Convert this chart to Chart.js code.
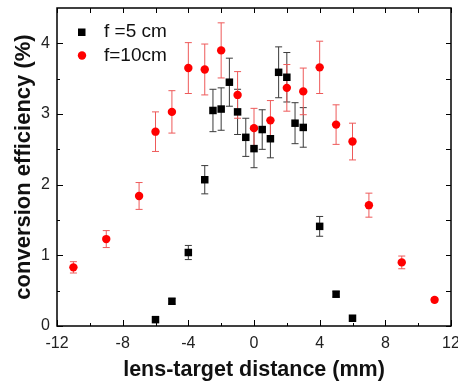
<!DOCTYPE html>
<html>
<head>
<meta charset="utf-8">
<script src="https://cdn.jsdelivr.net/npm/chart.js@4.4.1/dist/chart.umd.min.js"></script>
<style>
  html, body { margin: 0; padding: 0; background: #fff; }
  #wrap { width: 458px; height: 388px; }
</style>
</head>
<body>
<div id="wrap"><canvas id="chart"></canvas></div>
<script>
// ---- data ----
// f = 5 cm (black squares)
const xShort = [-6, -5, -4, -3, -2.5, -2, -1.5, -1, -0.5, 0, 0.5, 1, 1.5, 2, 2.5, 3, 4, 5, 6];
const yShort = [0.09, 0.35, 1.04, 2.07, 3.05, 3.07, 3.45, 3.03, 2.67, 2.51, 2.78, 2.65, 3.59, 3.52, 2.87, 2.81, 1.41, 0.45, 0.11];
const errShort = [0.02, 0.04, 0.1, 0.2, 0.3, 0.3, 0.34, 0.32, 0.27, 0.27, 0.28, 0.27, 0.36, 0.35, 0.29, 0.28, 0.14, 0.04, 0.02];

// f = 10 cm (red circles)
const xLong = [-11, -9, -7, -6, -5, -4, -3, -2, -1, 0, 1, 2, 3, 4, 5, 6, 7, 9, 11];
const yLong = [0.83, 1.23, 1.84, 2.75, 3.03, 3.65, 3.63, 3.90, 3.27, 2.80, 2.91, 3.37, 3.32, 3.66, 2.85, 2.61, 1.71, 0.90, 0.37];
const errLong = [0.08, 0.12, 0.19, 0.28, 0.3, 0.36, 0.36, 0.39, 0.33, 0.28, 0.28, 0.33, 0.33, 0.37, 0.28, 0.26, 0.17, 0.09, 0.03];

// axis ticks
const xMajor = [-12, -8, -4, 0, 4, 8, 12];
const xMinor = [-10, -6, -2, 2, 6, 10];
const yMajor = [0, 1, 2, 3, 4];
const yMinor = [0.5, 1.5, 2.5, 3.5];

const FONT = "'Liberation Sans', Arial, Helvetica, sans-serif";
Chart.defaults.font.family = FONT;
Chart.defaults.color = "#222";

const toPoints = (xs, ys) => xs.map((x, i) => ({ x, y: ys[i] }));

// error bars, drawn under the markers
const errorBars = {
    id: "errorBars",
    beforeDatasetsDraw(chart) {
        const { ctx, scales: { x, y } } = chart;
        ctx.save();
        chart.data.datasets.forEach((ds) => {
            ctx.strokeStyle = ds.errColor;
            ctx.lineWidth = 1;
            ds.data.forEach((p, i) => {
                const e = ds.err[i];
                const px = x.getPixelForValue(p.x);
                const top = y.getPixelForValue(p.y + e);
                const bot = y.getPixelForValue(p.y - e);
                ctx.beginPath();
                ctx.moveTo(px, top);
                ctx.lineTo(px, bot);
                ctx.moveTo(px - 3.5, top);
                ctx.lineTo(px + 3.5, top);
                ctx.moveTo(px - 3.5, bot);
                ctx.lineTo(px + 3.5, bot);
                ctx.stroke();
            });
        });
        ctx.restore();
    },
};

// box frame with inward ticks + legend inside the plot
const frameAndLegend = {
    id: "frameAndLegend",
    afterDraw(chart) {
        const { ctx, chartArea: a, scales: { x, y } } = chart;
        ctx.save();
        ctx.strokeStyle = "#000";
        ctx.lineWidth = 1;
        ctx.beginPath();
        xMajor.concat(xMinor).forEach((v) => {
            const px = Math.round(x.getPixelForValue(v)) + 0.5;
            const len = xMajor.includes(v) ? 6 : 3;
            ctx.moveTo(px, a.bottom);
            ctx.lineTo(px, a.bottom - len);
            ctx.moveTo(px, a.top);
            ctx.lineTo(px, a.top + 5);
        });
        yMajor.concat(yMinor).forEach((v) => {
            const py = Math.round(y.getPixelForValue(v)) + 0.5;
            const len = yMajor.includes(v) ? 6 : 3;
            ctx.moveTo(a.left, py);
            ctx.lineTo(a.left + len, py);
            ctx.moveTo(a.right, py);
            ctx.lineTo(a.right - 5, py);
        });
        ctx.stroke();

        ctx.lineWidth = 1.5;
        ctx.strokeRect(a.left, a.top, a.right - a.left, a.bottom - a.top);

        // legend
        const ds = chart.data.datasets;
        ctx.font = "19px " + FONT;
        ctx.textBaseline = "middle";
        ctx.fillStyle = "#111";
        ctx.fillText(ds[0].label, 104, 32);
        ctx.fillText(ds[1].label, 104, 56);
        ctx.fillStyle = ds[0].backgroundColor;
        ctx.fillRect(78, 28.5, 7.5, 7.5);
        ctx.fillStyle = ds[1].backgroundColor;
        ctx.beginPath();
        ctx.arc(82, 55.5, 4.2, 0, Math.PI * 2);
        ctx.fill();
        ctx.restore();
    },
};

new Chart(document.getElementById("chart"), {
    type: "scatter",
    data: {
        datasets: [
            {
                label: "f =5 cm",
                data: toPoints(xShort, yShort),
                err: errShort,
                errColor: "#3a3a3a",
                pointStyle: "rect",
                pointRadius: 5.3,
                pointHoverRadius: 5.3,
                backgroundColor: "#000",
                borderColor: "#000",
                borderWidth: 0,
            },
            {
                label: "f=10cm",
                data: toPoints(xLong, yLong),
                err: errLong,
                errColor: "#ee5a5a",
                pointStyle: "circle",
                pointRadius: 4.2,
                pointHoverRadius: 4.2,
                backgroundColor: "#ff0000",
                borderColor: "#ff0000",
                borderWidth: 0,
            },
        ],
    },
    options: {
        responsive: true,
        maintainAspectRatio: false,
        animation: false,
        layout: { padding: { top: 8, right: 7, left: 0, bottom: 0 } },
        plugins: {
            legend: { display: false },
            tooltip: { enabled: false },
        },
        scales: {
            x: {
                type: "linear",
                min: -12,
                max: 12,
                afterBuildTicks: (s) => { s.ticks = xMajor.map((v) => ({ value: v })); },
                afterFit: (s) => {
                    s.height = 62;
                    s.paddingLeft = 0;
                    s.paddingRight = 0;
                },
                grid: { display: false, drawTicks: false },
                border: { display: false },
                ticks: { font: { size: 16 }, padding: 8, maxRotation: 0, color: "#222" },
                title: {
                    display: true,
                    text: "lens-target distance (mm)",
                    font: { size: 21.5, weight: "bold" },
                    color: "#111",
                    padding: { top: 0, bottom: 5 },
                },
            },
            y: {
                type: "linear",
                min: 0,
                max: 4.5,
                afterBuildTicks: (s) => { s.ticks = yMajor.map((v) => ({ value: v })); },
                afterFit: (s) => {
                    s.width = 57;
                    s.paddingTop = 0;
                    s.paddingBottom = 0;
                },
                grid: { display: false, drawTicks: false },
                border: { display: false },
                ticks: { font: { size: 16 }, padding: 7, color: "#222" },
                title: {
                    display: true,
                    text: "conversion efficiency (%)",
                    font: { size: 22, weight: "bold" },
                    color: "#111",
                    padding: { top: 11, bottom: 0 },
                },
            },
        },
    },
    plugins: [errorBars, frameAndLegend],
});
</script>
</body>
</html>
